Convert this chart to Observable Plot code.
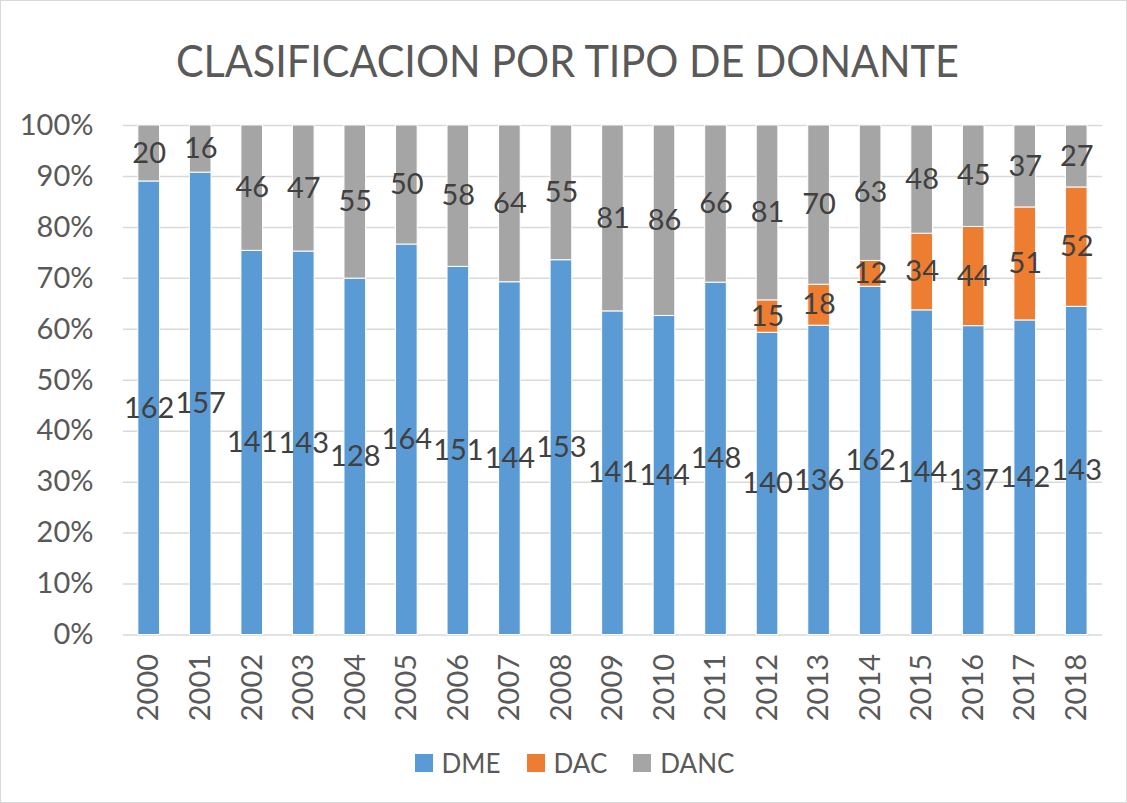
<!DOCTYPE html>
<html>
<head>
<meta charset="utf-8">
<script src="https://cdn.jsdelivr.net/npm/d3@7"></script>
<script src="https://cdn.jsdelivr.net/npm/@observablehq/plot@0.6"></script>
<style>
  html, body { margin: 0; padding: 0; background: #fff; }
  #frame { position: relative; width: 1125px; height: 801px; border: 1px solid #d9d9d9; overflow: hidden; font-family: Lato, "Open Sans", sans-serif; }
  #title { position: absolute; left: 0; top: 0; width: 1133px; height: 104px; text-align: center; line-height: 118px; font-size: 44px; color: #595959; white-space: nowrap; }
  #title span { display: inline-block; transform: scaleX(0.94); transform-origin: center; }
  #chart { position: absolute; left: -1px; top: 104px; }
  #legend { position: absolute; left: 0; top: 746px; width: 1147px; display: flex; justify-content: center; align-items: center; gap: 26px; font-size: 26px; color: #595959; }
  #legend .item { display: flex; align-items: center; gap: 9px; }
  #legend .sw { width: 18px; height: 18px; display: inline-block; }
</style>
</head>
<body>
<div id="frame">
  <div id="title"><span>CLASIFICACION POR TIPO DE DONANTE</span></div>
  <div id="chart"></div>
  <div id="legend"></div>
</div>
<script>
const years = ["2000","2001","2002","2003","2004","2005","2006","2007","2008","2009","2010","2011","2012","2013","2014","2015","2016","2017","2018"];
const seriesNames = ["DME", "DAC", "DANC"];
const seriesColors = ["#5b9bd5", "#ed7d31", "#a5a5a5"];
const dme  = [162,157,141,143,128,164,151,144,153,141,144,148,140,136,162,144,137,142,143];
const dac  = [0,0,0,0,0,0,0,0,0,0,0,0,15,18,12,34,44,51,52];
const danc = [20,16,46,47,55,50,58,64,55,81,86,66,81,70,63,48,45,37,27];
const yTicks = [0,0.1,0.2,0.3,0.4,0.5,0.6,0.7,0.8,0.9,1];

const seriesValues = [dme, dac, danc];
const data = [];
years.forEach((yr, i) => {
  seriesNames.forEach((s, k) => {
    const v = seriesValues[k][i];
    if (v > 0) data.push({year: yr, series: s, value: v});
  });
});

const stackOpts = {x: "year", y: "value", z: "series", order: seriesNames, offset: "normalize"};

const chart = Plot.plot({
  width: 1127,
  height: 625,
  marginTop: 20,
  marginBottom: 95,
  marginLeft: 123,
  marginRight: 24,
  style: {fontFamily: "Lato, 'Open Sans', sans-serif", fontSize: "29px", color: "#595959", background: "transparent"},
  x: {domain: years, paddingInner: 0.58, paddingOuter: 0.29, round: false, label: null, tickSize: 0, tickPadding: 19, tickRotate: -90},
  y: {domain: [0, 1], ticks: yTicks, tickFormat: d => Math.round(d * 100) + "%", label: null, tickSize: 0, tickPadding: 30},
  color: {domain: seriesNames, range: seriesColors},
  marks: [
    Plot.gridY(yTicks, {stroke: "#d9d9d9", strokeOpacity: 1, strokeWidth: 1.5}),
    Plot.barY(data, Plot.stackY({...stackOpts, fill: "series", stroke: "#fff", strokeWidth: 1})),
    Plot.text(data, Plot.stackY({...stackOpts, text: d => String(d.value), fill: "#404040", fontSize: 29})),
    Plot.axisX({tickSize: 0, tickPadding: 19, tickRotate: -90, fontSize: 29, fill: "#595959"}),
    Plot.axisY({ticks: yTicks, tickFormat: d => Math.round(d * 100) + "%", tickSize: 0, tickPadding: 30, fontSize: 29, fill: "#595959"})
  ]
});
document.getElementById("chart").appendChild(chart);

const legend = document.getElementById("legend");
seriesNames.forEach((s, k) => {
  const item = document.createElement("div");
  item.className = "item";
  const sw = document.createElement("span");
  sw.className = "sw";
  sw.style.background = seriesColors[k];
  const t = document.createElement("span");
  t.textContent = s;
  item.appendChild(sw);
  item.appendChild(t);
  legend.appendChild(item);
});
</script>
</body>
</html>
